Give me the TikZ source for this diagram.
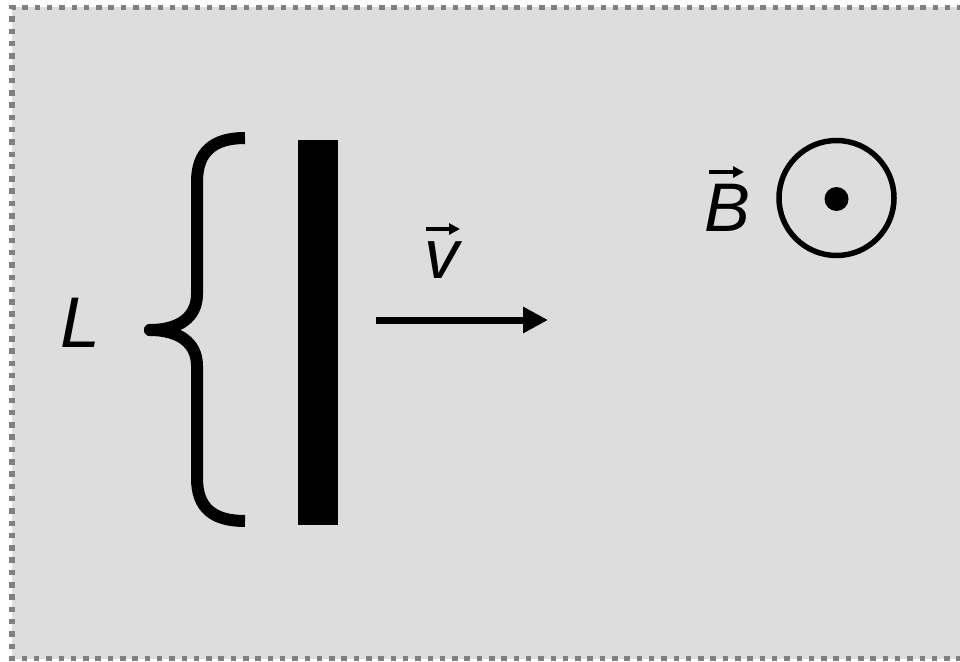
\documentclass[tikz,border=0pt]{standalone}
\usepackage{fontspec}
\setmainfont{Liberation Sans}
\usetikzlibrary{arrows.meta,calc}
\definecolor{bgc}{HTML}{DDDDDD}
\definecolor{bordc}{HTML}{808080}
\tikzset{
  lbl/.style={inner sep=0pt, outer sep=0pt, anchor=base west, font=\itshape},
  vecarrow/.style={line width=3.5bp, -{Triangle[length=11bp,width=11bp]}},
}
\begin{document}
\begin{tikzpicture}[x=1bp,y=-1bp]
\useasboundingbox (0,0) rectangle (960,662);
\fill[bgc] (12,7.5) rectangle (975,658.5);
\draw[bordc, line width=5.5bp, dash pattern=on 5.5bp off 6.8bp]
  (975,7.5) -- (12,7.5) -- (12,658.5) -- (975,658.5);
% brace
\draw[line width=12bp, line cap=butt, line join=round]
  (245,138) .. controls (213,138) and (197,152) .. (197,182) -- (197,294)
  .. controls (197,318) and (178,330) .. (150,330)
  .. controls (178,330) and (197,342) .. (197,366) -- (197,478)
  .. controls (197,508) and (213,521) .. (245,521);
\fill (150,330) circle (6bp);
% bar
\node[fill=black, inner sep=0pt, minimum width=40bp, minimum height=385bp] (bar) at (318,332.5) {};
% velocity arrow
\coordinate (vs) at (376,320);
\coordinate (ve) at (548,320);
\draw[line width=7bp, -{Triangle[length=25bp,width=25bp]}] (vs) -- (ve);
% labels
\node[lbl, font=\fontsize{72}{72}\selectfont\itshape] (L) at (60,347) {L};
\node[lbl, font=\fontsize{70}{70}\selectfont\itshape] (v) at (424,278) {v};
\draw[vecarrow] ($(v.base west)+(2,-49)$) -- ($(v.base west)+(36,-49)$);
\node[lbl, font=\fontsize{69}{69}\selectfont\itshape] (B) at (704,231) {B};
\draw[vecarrow] ($(B.base west)+(5,-59)$) -- ($(B.base west)+(40,-59)$);
% field symbol
\node[draw, circle, line width=5.5bp, minimum size=115bp, inner sep=0pt] (field) at (836.5,198) {};
\fill (field.center) ++(0,1) circle (12bp);
\end{tikzpicture}
\end{document}
